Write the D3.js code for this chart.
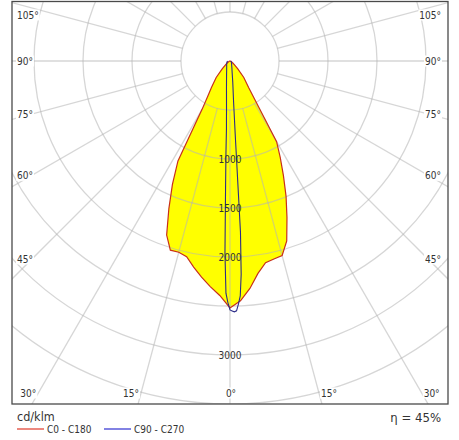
<!DOCTYPE html>
<html lang="en">
<head>
<meta charset="UTF-8" />
<script src="https://d3js.org/d3.v7.min.js"></script>
<style>
  body { margin: 0; background: #fff; }
  svg text { font-family: "DejaVu Sans Condensed", "DejaVu Sans", sans-serif; fill: #333; }
</style>
</head>
<body>
<svg width="459" height="440"></svg>
<script>
// intensity (cd/klm) per gamma angle
var gammaRed = [0, 2.5, 5, 7.5, 10, 12.5, 15, 17.5, 20, 22.5, 25, 27.5, 30, 32.5, 35, 40, 45, 50, 55, 60, 70, 80, 90];
var c0   = [2520, 2450, 2330, 2186, 2090, 2070, 2055, 1925, 1700, 1495, 1290, 1110, 951, 488, 331, 219, 110, 60, 35, 20, 8, 3, 0];
var c180 = [2520, 2395, 2311, 2224, 2135, 2045, 2020, 2024, 1890, 1630, 1390, 1150, 570, 412, 330, 219, 110, 60, 35, 20, 8, 3, 0];

var gammaBlue = [0, 0.5, 1, 1.5, 2, 2.5, 3, 3.5, 4, 5, 7.5, 10, 15, 20, 30, 45, 60, 75, 90];
var c90  = [2540, 2550, 2560, 2550, 2480, 2400, 2180, 1750, 800, 420, 215, 130, 75, 52, 32, 20, 14, 10, 8];
var c270 = [2540, 2465, 2370, 1960, 1300, 950, 690, 590, 510, 410, 275, 205, 135, 100, 68, 48, 38, 30, 25];

var rings = [500, 1000, 1500, 2000, 2500, 3000, 3500];
var ringLabels = [1000, 1500, 2000, 3000];
var spokes = [0, 15, 30, 45, 60, 75, 90, 105, 120, 135, 150, 165, 180, 195, 210, 225, 240, 255, 270, 285, 300, 315, 330, 345];
var sideLabels = [45, 60, 75, 90, 105];
var bottomLabels = [0, 15, 30];

var svg = d3.select("svg"),
  frame = { left: 12, top: 1.5, right: 448, bottom: 404 },
  cx = 230,
  cy = 61;

var r = d3.scaleLinear().domain([0, 3500]).range([0, 343]);
var rad = function (d) { return (d * Math.PI) / 180; };

svg.append("defs").append("clipPath").attr("id", "clip")
  .append("rect")
  .attr("x", frame.left).attr("y", frame.top)
  .attr("width", frame.right - frame.left)
  .attr("height", frame.bottom - frame.top);

var g = svg.append("g").attr("clip-path", "url(#clip)");
var plot = g.append("g").attr("transform", "translate(" + cx + "," + cy + ")");

var line = d3.lineRadial()
  .angle(function (d) { return d[0]; })
  .radius(function (d) { return r(d[1]); });

function plane(gammas, leftVals, rightVals) {
  var pts = [];
  for (var i = gammas.length - 1; i >= 0; i--) pts.push([Math.PI + rad(gammas[i]), leftVals[i]]);
  for (var j = 1; j < gammas.length; j++) pts.push([Math.PI - rad(gammas[j]), rightVals[j]]);
  return pts;
}

var redPts = plane(gammaRed, c180, c0);
var bluePts = plane(gammaBlue, c270, c90);

// yellow fill first, grid on top of it
plot.append("path")
  .attr("d", line(redPts) + "Z")
  .attr("fill", "#ffff00")
  .attr("stroke", "none");

var grid = plot.append("g")
  .attr("fill", "none")
  .attr("stroke", "#b4b4b4")
  .attr("stroke-opacity", 0.55)
  .attr("stroke-width", 1.3);

grid.selectAll("circle")
  .data(rings)
  .enter()
  .append("circle")
  .attr("r", function (d) { return r(d); });

grid.selectAll("line")
  .data(spokes)
  .enter()
  .append("line")
  .attr("x1", function (d) { return r(500) * Math.sin(rad(d)); })
  .attr("y1", function (d) { return -r(500) * Math.cos(rad(d)); })
  .attr("x2", function (d) { return 700 * Math.sin(rad(d)); })
  .attr("y2", function (d) { return -700 * Math.cos(rad(d)); });

plot.append("path")
  .attr("d", line(redPts) + "Z")
  .attr("fill", "none")
  .attr("stroke", "#c8301a")
  .attr("stroke-width", 1.2);

plot.append("path")
  .attr("d", line(bluePts))
  .attr("fill", "none")
  .attr("stroke", "#2c2c88")
  .attr("stroke-width", 1.1);

plot.selectAll(".ringlabel")
  .data(ringLabels)
  .enter()
  .append("text")
  .attr("class", "ringlabel")
  .attr("x", 0)
  .attr("y", function (d) { return r(d); })
  .attr("dy", "0.35em")
  .attr("text-anchor", "middle")
  .attr("font-size", 10)
  .text(function (d) { return d; });

// angle labels with white boxes over the spokes
var labels = svg.append("g").attr("font-size", 10);

function angleLabel(x, y, anchor, txt) {
  var t = labels.append("text")
    .attr("x", x).attr("y", y)
    .attr("dy", "0.35em")
    .attr("text-anchor", anchor)
    .text(txt);
  var b = t.node().getBBox();
  labels.insert("rect", function () { return t.node(); })
    .attr("x", b.x - 1).attr("y", b.y)
    .attr("width", b.width + 2).attr("height", b.height)
    .attr("fill", "#fff");
}

sideLabels.forEach(function (a) {
  var y = cy + 198 / Math.tan(rad(a));
  y = Math.max(15, y);
  angleLabel(17, y, "start", a + "°");
  angleLabel(441, y, "end", a + "°");
});

bottomLabels.forEach(function (a) {
  var yb = 393;
  var dx = (yb - cy) * Math.tan(rad(a));
  if (a === 0) {
    angleLabel(cx + 1, yb, "middle", a + "°");
  } else {
    angleLabel(cx - dx - 2, yb, "end", a + "°");
    angleLabel(cx + dx + 2, yb, "start", a + "°");
  }
});

svg.append("rect")
  .attr("x", frame.left).attr("y", frame.top)
  .attr("width", frame.right - frame.left)
  .attr("height", frame.bottom - frame.top)
  .attr("fill", "none")
  .attr("stroke", "#4a4a4a")
  .attr("stroke-width", 1.3);

// legend
svg.append("text")
  .attr("x", 17).attr("y", 417)
  .attr("dy", "0.35em")
  .attr("font-size", 12.5)
  .attr("fill", "#222")
  .text("cd/klm");

svg.append("text")
  .attr("x", 441).attr("y", 417)
  .attr("dy", "0.35em")
  .attr("text-anchor", "end")
  .attr("font-size", 13)
  .attr("fill", "#222")
  .text("η = 45%");

var legend = [
  { name: "C0 - C180", color: "#e03a2a", x: 17 },
  { name: "C90 - C270", color: "#2f2fd0", x: 104 }
];

var lg = svg.append("g").selectAll("g")
  .data(legend)
  .enter()
  .append("g")
  .attr("transform", function (d) { return "translate(" + d.x + ",429)"; });

lg.append("line")
  .attr("x1", 0).attr("x2", 27)
  .attr("stroke", function (d) { return d.color; })
  .attr("stroke-width", 1.2);

lg.append("text")
  .attr("x", 30)
  .attr("dy", "0.35em")
  .attr("font-size", 10)
  .attr("fill", "#222")
  .text(function (d) { return d.name; });
</script>
</body>
</html>
